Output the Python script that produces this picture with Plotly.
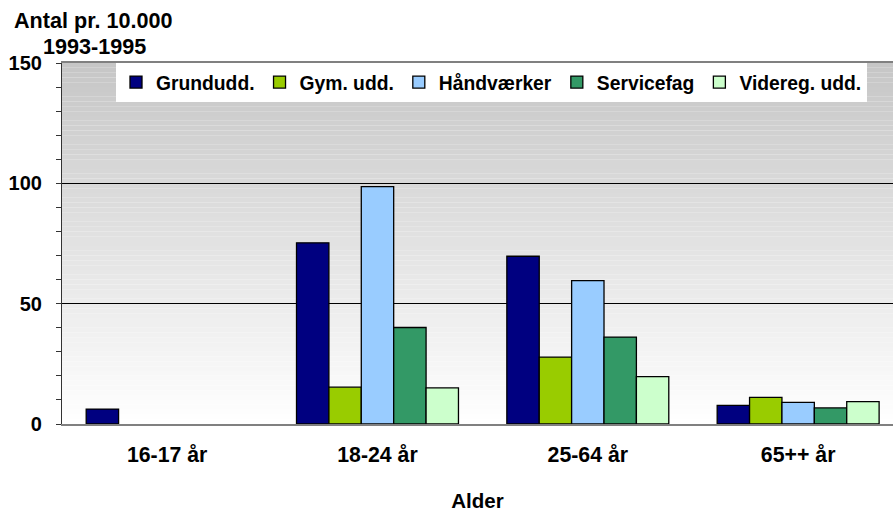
import plotly.graph_objects as go

categories = ["16-17 år", "18-24 år", "25-64 år", "65++ år"]
series_names = ["Grundudd.", "Gym. udd.", "Håndværker", "Servicefag", "Videreg. udd."]
grundudd = [6.2, 75.3, 69.7, 7.7]
gym_udd = [None, 15.3, 27.8, 11.1]
haandvaerker = [None, 98.6, 59.6, 9.0]
servicefag = [None, 40.1, 36.1, 6.7]
videreg_udd = [None, 15.0, 19.7, 9.3]
colors = ["#000080", "#99CC00", "#99CCFF", "#339966", "#CCFFCC"]
y_ticks = [0, 50, 100, 150]

FONT = "Liberation Sans, Arial, sans-serif"
FS = 20

fig = go.Figure()
for name, vals, col in zip(series_names,
                           [grundudd, gym_udd, haandvaerker, servicefag, videreg_udd],
                           colors):
    fig.add_trace(go.Bar(
        x=categories, y=vals, name=name,
        marker=dict(color=col, line=dict(color="black", width=1.3)),
    ))

# vertical gradient background (white at bottom -> gray at top)
n = 75
for i in range(n):
    t = (i + 0.5) / n
    g = int(round(255 - 57 * t))
    fig.add_shape(type="rect", xref="x domain", yref="y",
                  x0=0, x1=1, y0=150 * i / n, y1=150 * (i + 1) / n,
                  fillcolor=f"rgb({g},{g},{g})", line=dict(width=0),
                  layer="below")

fig.update_layout(
    width=893, height=512,
    margin=dict(l=62, r=0, t=63, b=88),
    paper_bgcolor="white", plot_bgcolor="white",
    barmode="group", bargap=0.23, bargroupgap=0,
    font=dict(family=FONT, size=FS, color="black"),
    showlegend=True,
    legend=dict(orientation="h", x=(116 - 62) / 831, y=1, xanchor="left", yanchor="top",
                bgcolor="white", borderwidth=0,
                font=dict(family=FONT, size=19.3, color="black", weight="bold"),
                itemclick=False, traceorder="normal",
                tracegroupgap=0, itemwidth=30),
    xaxis=dict(
        range=[-0.5, 3.451],
        showline=True, linecolor="#808080", linewidth=1.5, mirror=True,
        ticks="", showgrid=False,
        tickfont=dict(family=FONT, size=21.3, weight="bold"),
        ticklabelstandoff=11,
        title=dict(text="<b>Alder</b>", font=dict(family=FONT, size=20.5), standoff=29),
    ),
    yaxis=dict(
        range=[0, 150],
        tickvals=y_ticks,
        showline=True, linecolor="#333333", linewidth=1.2,
        ticks="outside", ticklen=5, tickcolor="#333333", tickwidth=1,
        minor=dict(dtick=10, ticks="outside", ticklen=5, tickcolor="#333333", showgrid=False),
        showgrid=True, gridcolor="black", gridwidth=1,
        zeroline=False,
        tickfont=dict(family=FONT, size=FS, weight="bold"),
        ticklabelstandoff=10,
    ),
)

fig.add_annotation(text="<b>Antal pr. 10.000</b>", xref="paper", yref="paper",
                   x=(93 - 62) / 831, y=1 + (63 - 20) / 361,
                   xanchor="center", yanchor="middle", showarrow=False,
                   font=dict(family=FONT, size=21.6))
fig.add_annotation(text="<b>1993-1995</b>", xref="paper", yref="paper",
                   x=(94 - 62) / 831, y=1 + (63 - 46) / 361,
                   xanchor="center", yanchor="middle", showarrow=False,
                   font=dict(family=FONT, size=21.6))

fig.write_html("out.html", config={"displayModeBar": False},
               post_script="document.body.style.margin='0';")
